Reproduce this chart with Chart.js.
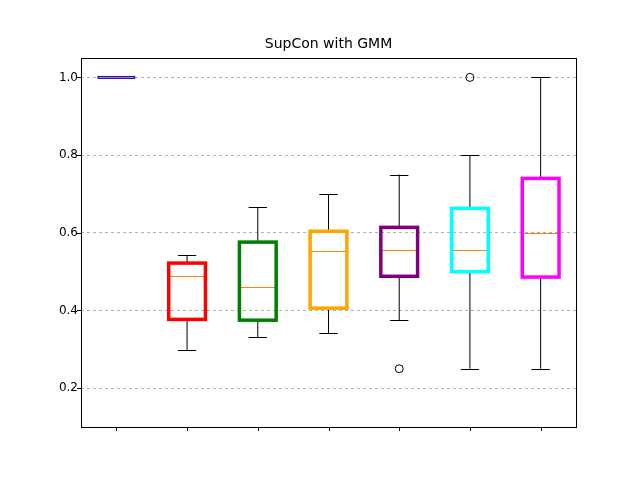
<!DOCTYPE html>
<html><head>
<script src="https://cdn.jsdelivr.net/npm/chart.js@4/dist/chart.umd.min.js"></script>
<style>body{margin:0;background:#fff}#wrap{width:640px;height:480px}</style>
</head><body>
<div id="wrap"><canvas id="c" width="640" height="480"></canvas></div>
<script>
var chartTitle = 'SupCon with GMM';
var labels = ['', '', '', '', '', '', ''];
var q1 = [1.0, 0.377, 0.375, 0.406, 0.488, 0.5, 0.486];
var q3 = [1.0, 0.522, 0.576, 0.604, 0.614, 0.663, 0.74];
var medians = [1.0, 0.488, 0.46, 0.552, 0.555, 0.555, 0.6];
var whiskerLow = [1.0, 0.298, 0.331, 0.341, 0.375, 0.25, 0.25];
var whiskerHigh = [1.0, 0.542, 0.666, 0.7, 0.75, 0.8, 1.0];
var outliers = [[], [], [], [], [0.25], [1.0], []];
var boxColors = ['blue', 'red', 'green', 'orange', 'purple', 'cyan', 'magenta'];
var boxWidths = [1, 3.5, 3.5, 3.5, 3.5, 3.5, 3.5];
var yTicks = [0.2, 0.4, 0.6, 0.8, 1.0];

var boxPlugin = {
    id: 'boxExtras',
    afterDatasetsDraw: function (chart) {
        var ctx = chart.ctx, x = chart.scales.x, y = chart.scales.y, a = chart.chartArea;
        ctx.save();
        for (var i = 0; i < labels.length; i++) {
            var cx = x.getPixelForValue(i);
            var bw = chart.getDatasetMeta(0).data[i].width;
            ctx.lineWidth = 1;
            ctx.strokeStyle = 'black';
            ctx.beginPath();
            ctx.moveTo(cx, y.getPixelForValue(q1[i]));
            ctx.lineTo(cx, y.getPixelForValue(whiskerLow[i]));
            ctx.moveTo(cx, y.getPixelForValue(q3[i]));
            ctx.lineTo(cx, y.getPixelForValue(whiskerHigh[i]));
            [whiskerLow[i], whiskerHigh[i]].forEach(function (v) {
                var py = Math.round(y.getPixelForValue(v)) + 0.5;
                ctx.moveTo(cx - bw / 4, py);
                ctx.lineTo(cx + bw / 4, py);
            });
            ctx.stroke();
            ctx.strokeStyle = '#ff7f0e';
            ctx.beginPath();
            var my = Math.round(y.getPixelForValue(medians[i])) + 0.5;
            ctx.moveTo(cx - bw / 2, my);
            ctx.lineTo(cx + bw / 2, my);
            ctx.stroke();
            // box outline centred on the edges
            ctx.strokeStyle = boxColors[i];
            ctx.lineWidth = boxWidths[i];
            var t = y.getPixelForValue(q3[i]), b = y.getPixelForValue(q1[i]);
            if (b - t < 2) { t -= 1; b += 1; }
            ctx.strokeRect(cx - bw / 2, t, bw, b - t);
            ctx.strokeStyle = 'black';
            ctx.lineWidth = 1;
            outliers[i].forEach(function (v) {
                ctx.beginPath();
                ctx.arc(cx, y.getPixelForValue(v), 4, 0, Math.PI * 2);
                ctx.stroke();
            });
            // x tick marks
            ctx.beginPath();
            ctx.moveTo(Math.round(cx) + 0.5, a.bottom);
            ctx.lineTo(Math.round(cx) + 0.5, a.bottom + 4);
            ctx.stroke();
        }
        yTicks.forEach(function (v) {
            var py = Math.round(y.getPixelForValue(v)) + 0.5;
            ctx.beginPath();
            ctx.moveTo(a.left - 4, py);
            ctx.lineTo(a.left, py);
            ctx.stroke();
        });
        ctx.strokeRect(Math.round(a.left) + 0.5, Math.round(a.top) + 0.5, Math.round(a.right - a.left), Math.round(a.bottom - a.top));
        ctx.fillStyle = 'black';
        ctx.font = '14px "DejaVu Sans"';
        ctx.textAlign = 'center';
        ctx.textBaseline = 'bottom';
        ctx.fillText(chartTitle, (a.left + a.right) / 2, a.top - 7);
        ctx.restore();
    }
};

new Chart(document.getElementById('c').getContext('2d'), {
    type: 'bar',
    data: {
        labels: labels,
        datasets: [{
            data: q1.map(function (v, i) { return [v, q3[i]]; }),
            backgroundColor: 'rgba(0,0,0,0)',
            borderColor: 'rgba(0,0,0,0)',
            borderWidth: 0,
            barPercentage: 0.52,
            categoryPercentage: 1.0
        }]
    },
    options: {
        responsive: false,
        animation: false,
        layout: { padding: { top: 58, right: 64, left: 0, bottom: 0 } },
        plugins: {
            legend: { display: false },
            tooltip: { enabled: false },
            title: { display: false }
        },
        scales: {
            x: {
                grid: { display: false },
                border: { display: false },
                ticks: { display: false },
                afterFit: function (s) { s.height = 53; }
            },
            y: {
                min: 0.1,
                max: 1.05,
                afterBuildTicks: function (s) { s.ticks = yTicks.map(function (v) { return { value: v }; }); },
                ticks: {
                    color: 'black',
                    font: { family: 'DejaVu Sans', size: 12 },
                    callback: function (v) { return v.toFixed(1); }
                },
                grid: { color: '#b0b0b0', drawTicks: false },
                border: { display: false, dash: [3, 3] },
                afterFit: function (s) { s.width = 81; }
            }
        }
    },
    plugins: [boxPlugin]
});
</script>
</body></html>
